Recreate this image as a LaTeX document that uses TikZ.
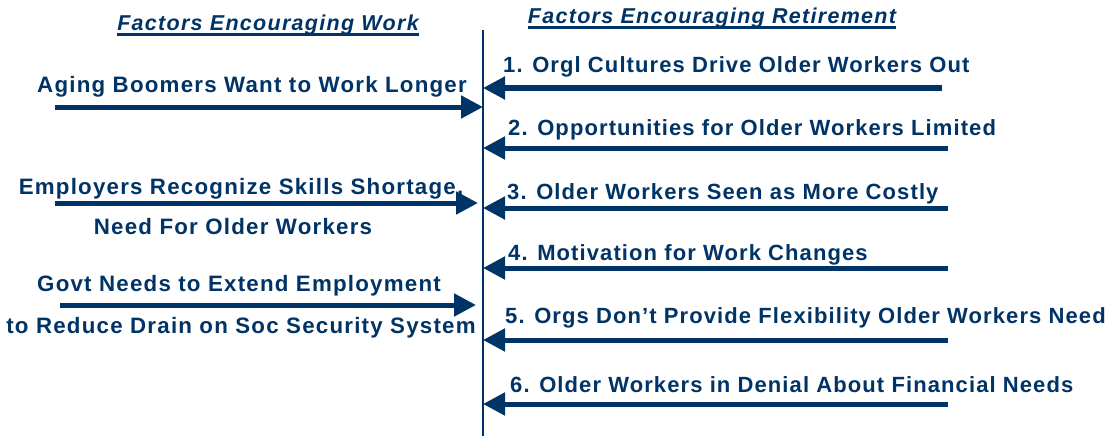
\documentclass[tikz,border=0pt]{standalone}
\usepackage{fontspec}
\setmainfont{Liberation Sans}
\usepackage{tikz}
\usepackage{xcolor}
\usetikzlibrary{arrows.meta, positioning, calc}
\definecolor{navyblue}{RGB}{0,51,102}

\begin{document}
\begin{tikzpicture}[x=1pt,y=-1pt,
  title/.style={text=navyblue,font=\fontsize{21.5}{24}\selectfont\addfontfeature{LetterSpace=6}\bfseries\itshape,inner sep=0pt},
  item/.style={text=navyblue,font=\fontsize{22.3}{26}\selectfont\addfontfeature{LetterSpace=5.5}\bfseries,inner sep=0pt,align=center},
  cause/.style={text=navyblue,font=\fontsize{22}{26}\selectfont\addfontfeature{LetterSpace=5}\bfseries,inner sep=0pt,anchor=west},
  push/.style={draw=navyblue,line width=5pt,-{Triangle[length=22pt,width=22pt]}},
  bar/.style={navyblue,line width=2.2pt}]
  \useasboundingbox (0,0) rectangle (1114,436);
  \coordinate (top) at (483,30);
  \coordinate (bot) at (483,436);
  \draw[navyblue,line width=1.2pt] (top) -- (bot);
  \node[title](tw) at (268,25){Factors Encouraging Work};
  \node[title](tr) at (712,18){Factors Encouraging Retirement};
  \draw[bar] ($(tw.base west)+(0,4)$) -- ($(tw.base east)+(0,4)$);
  \draw[bar] ($(tr.base west)+(0,4)$) -- ($(tr.base east)+(0,4)$);
  \node[item](w1) at (252,87){Aging Boomers Want to Work Longer};
  \node[item](w2) at (241,189){Employers Recognize Skills Shortage,};
  \node[item](w2b) at (233,227){Need For Older Workers};
  \node[item](w3) at (239,286){Govt Needs to Extend Employment};
  \node[item](w3b) at (241,328){to Reduce Drain on Soc Security System};
  \coordinate (s1) at (55,107);
  \coordinate (s2) at (55,203);
  \coordinate (s3) at (60,305);
  \draw[push] (s1) -- (s1 -| top);
  \draw[push] (s2) -- ($(s2 -| top)+(-5,0)$);
  \draw[push] (s3) -- ($(s3 -| top)+(-7,0)$);
  \node[cause](r1) at (503,67){1. Orgl Cultures Drive Older Workers Out};
  \node[cause](r2) at (508,130){2. Opportunities for Older Workers Limited};
  \node[cause](r3) at (507,194){3. Older Workers Seen as More Costly};
  \node[cause](r4) at (508,255){4. Motivation for Work Changes};
  \node[cause](r5) at (505,318){5. Orgs Don’t Provide Flexibility Older Workers Need};
  \node[cause](r6) at (510,385){6. Older Workers in Denial About Financial Needs};
  \coordinate (e1) at (942,88);
  \coordinate (e2) at (948,148);
  \coordinate (e3) at (948,208);
  \coordinate (e4) at (948,268);
  \coordinate (e5) at (948,340);
  \coordinate (e6) at (948,404);
  \foreach \e in {e1,e2,e3,e4,e5,e6}
    \draw[push] (\e) -- (\e -| top);
\end{tikzpicture}
\end{document}
